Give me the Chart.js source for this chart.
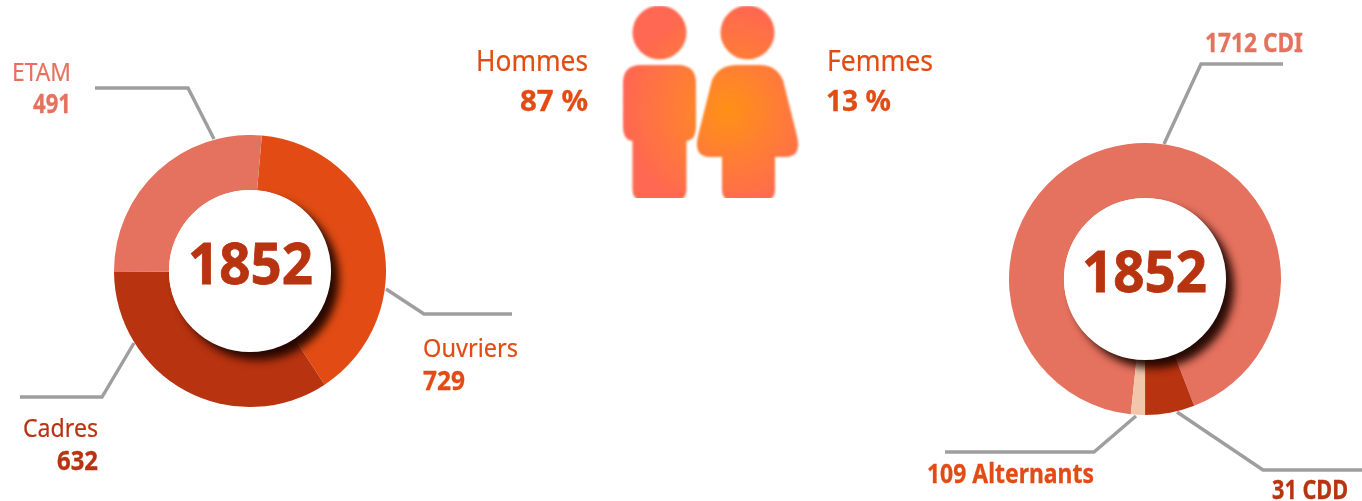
<!DOCTYPE html>
<html><head><meta charset="utf-8">
<style>
html,body{margin:0;padding:0;background:#fff;width:1362px;height:501px;overflow:hidden}
canvas{position:absolute}
svg{position:absolute;left:0;top:0}
.t{position:absolute;white-space:nowrap;font-family:"Noto Sans",sans-serif;line-height:1;transform-origin:0 0}
</style>
<script src="https://cdn.jsdelivr.net/npm/chart.js@4/dist/chart.umd.min.js"></script>
</head><body>
<svg width="1362" height="501" viewBox="0 0 1362 501">
<defs>
<radialGradient id="g" gradientUnits="userSpaceOnUse" cx="728" cy="110" r="105">
<stop offset="0" stop-color="#FF9116"/><stop offset="0.45" stop-color="#FF7E34"/><stop offset="1" stop-color="#FF6852"/>
</radialGradient>
<filter id="b" x="-5%" y="-5%" width="110%" height="110%"><feGaussianBlur stdDeviation="0.8"/></filter>
<clipPath id="c"><rect x="600" y="6" width="220" height="192"/></clipPath>
</defs>
<g clip-path="url(#c)"><g fill="url(#g)" filter="url(#b)">
<circle cx="659.5" cy="32.5" r="27"/>
<circle cx="747.5" cy="32.5" r="27"/>
<path d="M641 65H678Q696 65 696 83V126Q696 140 686.5 141V189Q686.5 201 675 201H644Q632.5 201 632.5 189V141Q623 140 623 126V83Q623 65 641 65Z"/>
<path d="M737 65H760Q776 65 783 80L797 136Q802 157 785 157H775V189Q775 201 764 201H733Q722 201 722 189V157H711Q693 157 698 136L712 80Q719 65 737 65Z"/>
</g></g>
<g fill="none" stroke="#9E9E9E" stroke-width="3.4">
<polyline points="95,88 188,88 214,139"/>
<polyline points="386,289 424,314 512,314"/>
<polyline points="134,343 102,397 20,397"/>
<polyline points="1283,64 1201,64 1164,144"/>
<polyline points="945,452 1094,452 1136,416"/>
<polyline points="1177,412 1263,470 1362,470"/>
</g>
</svg>
<canvas id="left" width="272" height="272" style="left:114px;top:135px;width:272px;height:272px"></canvas>
<canvas id="right" width="272" height="272" style="left:1009px;top:143px;width:272px;height:272px"></canvas>
<script>
const staffCategories = ["Ouvriers", "Cadres", "ETAM"];
const staffValues = [729, 632, 491];
const staffColors = ["#E24C14", "#B83310", "#E5725E"];
const contractCategories = ["CDI", "CDD", "Alternants"];
const contractValues = [1712, 109, 31];
const contractColors = ["#E5725E", "#B83310", "#F2C6AA"];
const totalLabel = "1852";
const genderLabels = ["Hommes", "Femmes"];
const genderValues = ["87 %", "13 %"];

const ringShadow = {
  id: "ringShadow",
  afterDatasetsDraw(chart) {
    const arc = chart.getDatasetMeta(0).data[0];
    const ctx = chart.ctx;
    ctx.save();
    ctx.beginPath();
    ctx.arc(arc.x, arc.y, arc.innerRadius, 0, Math.PI * 2);
    ctx.shadowColor = "rgba(30,5,0,0.95)";
    ctx.shadowBlur = 9;
    ctx.shadowOffsetX = 8;
    ctx.shadowOffsetY = 8;
    ctx.fillStyle = "#fff";
    ctx.fill();
    ctx.restore();
  }
};
function ring(id, labels, data, colors, rotation) {
  new Chart(document.getElementById(id), {
    type: "doughnut",
    data: { labels, datasets: [{ data, backgroundColor: colors, borderWidth: 0 }] },
    options: {
      responsive: false, animation: false, rotation, cutout: "59.6%",
      layout: { padding: 0 },
      plugins: { legend: { display: false }, tooltip: { enabled: false } }
    },
    plugins: [ringShadow]
  });
}
ring("left", staffCategories, staffValues, staffColors, 5);
ring("right", contractCategories, contractValues, contractColors, 186);

// text: [string, left, right, baseline, size, weight, colour, outline]
const O = "#E24C14", D = "#B83310", L = "#E5725E";
const texts = [
  [staffCategories[2], 12, 71, 81, 25, 400, L, 0.2],
  [String(staffValues[2]), 33, 71, 113, 26, 700, L, 0.3],
  [staffCategories[0], 423, 518, 357, 25, 400, O, 0.2],
  [String(staffValues[0]), 423, 465, 390, 26, 700, O, 0.3],
  [staffCategories[1], 23, 98, 437, 25, 400, D, 0.2],
  [String(staffValues[1]), 57, 98, 470, 26, 700, D, 0.3],
  [genderLabels[0], 476, 588, 71, 29, 400, O, 0.2],
  [genderValues[0], 520, 588, 111, 29, 700, O, 0.3],
  [genderLabels[1], 827, 933, 71, 29, 400, O, 0.2],
  [genderValues[1], 826, 891, 111, 29, 700, O, 0.3],
  [contractValues[0] + " " + contractCategories[0], 1205, 1303, 52, 26, 700, L, 0.3],
  [contractValues[1] + " " + contractCategories[2], 927, 1094, 483, 26, 700, O, 0.3],
  [contractValues[2] + " " + contractCategories[1], 1272, 1348, 499, 26, 700, D, 0.3],
  [totalLabel, 188, 313, 285, 57, 700, D, 0.8],
  [totalLabel, 1082, 1207, 293, 57, 700, D, 0.8]
];
for (const [s, l, r, base, size, w, col, line] of texts) {
  const d = document.createElement("div");
  d.className = "t";
  d.textContent = s;
  d.style.fontSize = size + "px";
  d.style.fontWeight = w;
  d.style.color = col;
  d.style.webkitTextStroke = line + "px " + col;
  document.body.appendChild(d);
  const nat = d.getBoundingClientRect().width;
  const baseOffset = size * (0.5 + (1.069 - 0.293) / 2);
  d.style.left = l + "px";
  d.style.top = (base - baseOffset) + "px";
  d.style.transform = "scaleX(" + ((r - l) / nat).toFixed(3) + ")";
}
</script>
</body></html>
